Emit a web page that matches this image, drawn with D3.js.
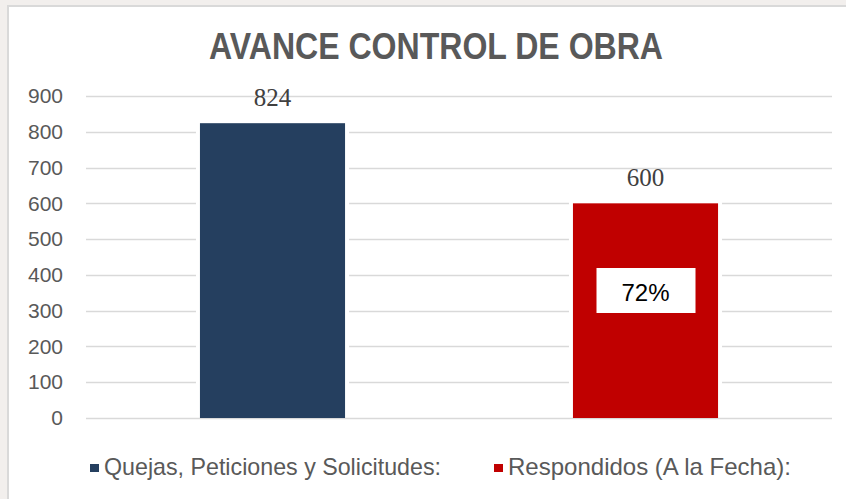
<!DOCTYPE html>
<html>
<head>
<meta charset="utf-8">
<script src="https://cdn.jsdelivr.net/npm/d3@7/dist/d3.min.js"></script>
<style>
  html, body { margin: 0; padding: 0; background: #f2efed; }
  svg { display: block; }
</style>
</head>
<body>
<div id="chart"></div>
<script>
// chart data
var categories = ["Quejas, Peticiones y Solicitudes:", "Respondidos (A la Fecha):"];
var values = [824, 600];
var colours = ["#253f5f", "#c00000"];
var yTicks = [0, 100, 200, 300, 400, 500, 600, 700, 800, 900];
var pctLabel = "72%";
var title = "AVANCE CONTROL DE OBRA";

var W = 846, H = 499;
var m = {left: 86, right: 14, top: 96, bottom: 81};

var svg = d3.select("#chart").append("svg")
  .attr("width", W).attr("height", H);

// white panel with grey border top/left
svg.append("rect").attr("x", 8).attr("y", 6).attr("width", W).attr("height", H)
  .attr("fill", "#fff").attr("stroke", "#d9d9d9").attr("stroke-width", 2);

var x = d3.scaleBand().domain(categories)
  .range([m.left, W - m.right])
  .paddingInner(0.611).paddingOuter(0.3055);
var y = d3.scaleLinear().domain([0, 900]).range([H - m.bottom, m.top]);

// gridlines
svg.append("g").selectAll("line").data(yTicks).enter().append("line")
  .attr("x1", m.left).attr("x2", W - m.right)
  .attr("y1", function(d){ return Math.round(y(d)) + 0.5; })
  .attr("y2", function(d){ return Math.round(y(d)) + 0.5; })
  .attr("stroke", "#d9d9d9").attr("stroke-width", 1.5);

// y axis labels
var yAxis = d3.axisLeft(y).tickValues(yTicks).tickSize(0).tickPadding(0);
var ga = svg.append("g").attr("transform", "translate(63,0)").call(yAxis);
ga.select(".domain").remove();
ga.selectAll("text")
  .attr("font-family", "Liberation Sans, Arial, sans-serif")
  .attr("font-size", 21).attr("fill", "#595959");

// bars (white halo to break gridlines)
var bars = svg.append("g").selectAll("g").data(values).enter().append("g");
bars.append("rect")
  .attr("x", function(d,i){ return x(categories[i]) - 4; })
  .attr("width", x.bandwidth() + 8)
  .attr("y", function(d){ return y(d) - 2; })
  .attr("height", function(d){ return y(0) - y(d) + 1; })
  .attr("fill", "#fff");
bars.append("rect")
  .attr("x", function(d,i){ return x(categories[i]); })
  .attr("width", x.bandwidth())
  .attr("y", function(d){ return y(d); })
  .attr("height", function(d){ return y(0) - y(d); })
  .attr("fill", function(d,i){ return colours[i]; });

// value labels
bars.append("text")
  .attr("x", function(d,i){ return x(categories[i]) + x.bandwidth()/2; })
  .attr("y", function(d){ return y(d) - 17; })
  .attr("text-anchor", "middle")
  .attr("font-family", "Liberation Serif, DejaVu Serif, serif")
  .attr("font-size", 25).attr("fill", "#404040")
  .text(function(d){ return d; });

// percentage box on second bar
var cx2 = x(categories[1]) + x.bandwidth()/2;
svg.append("rect").attr("x", cx2 - 49).attr("y", 268).attr("width", 99).attr("height", 45)
  .attr("fill", "#fff");
svg.append("text").attr("x", cx2).attr("y", 301)
  .attr("text-anchor", "middle")
  .attr("font-family", "Liberation Sans, Arial, sans-serif")
  .attr("font-size", 24).attr("fill", "#000")
  .text(pctLabel);

// title (narrower than plain Arial in the original)
svg.append("text").attr("x", 209).attr("y", 59)
  .attr("font-family", "Liberation Sans, Arial, sans-serif")
  .attr("font-weight", "bold")
  .attr("font-size", 36).attr("fill", "#595959")
  .attr("textLength", 454).attr("lengthAdjust", "spacingAndGlyphs")
  .text(title);

// legend
var legX = [90, 494];
var legLen = [337, 283];
var leg = svg.append("g").selectAll("g").data(categories).enter().append("g")
  .attr("transform", function(d,i){ return "translate(" + legX[i] + ",468)"; });
leg.append("rect").attr("x", 0).attr("y", -4).attr("width", 9).attr("height", 8)
  .attr("fill", function(d,i){ return colours[i]; });
leg.append("text").attr("x", 14).attr("y", 7)
  .attr("font-family", "Liberation Sans, Arial, sans-serif")
  .attr("font-size", 24).attr("fill", "#595959")
  .attr("textLength", function(d,i){ return legLen[i]; })
  .attr("lengthAdjust", "spacingAndGlyphs")
  .text(function(d){ return d; });
</script>
</body>
</html>
